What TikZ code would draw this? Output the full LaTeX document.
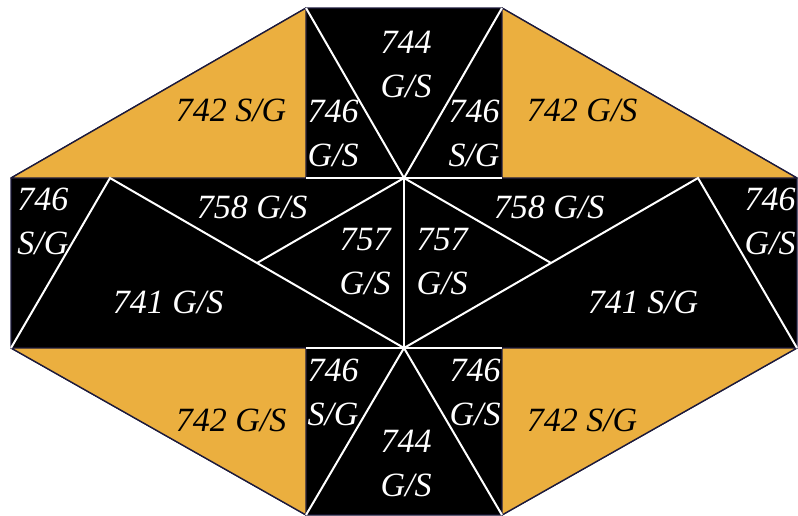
\documentclass[tikz,border=0pt]{standalone}
\usepackage{fontspec}
\setmainfont{Liberation Serif}
\usepackage{tikz}
\usetikzlibrary{calc}
\definecolor{tilegold}{HTML}{EBAF3F}
\definecolor{edgenavy}{HTML}{1C1A3C}
\tikzset{
  tile/.style={fill=black, draw=edgenavy, line width=0.6pt},
  goldtile/.style={fill=tilegold, draw=edgenavy, line width=0.7pt, line join=round},
  seam/.style={draw=white, line width=1pt},
  lbl/.style={font=\fontsize{17}{22}\selectfont\itshape, text=white, align=center, inner sep=0pt},
  goldlbl/.style={lbl, text=black}
}

\begin{document}
\begin{tikzpicture}[x=0.5pt, y=-0.5pt]
  \useasboundingbox (0,0) rectangle (798,515);
  % corner points of the figure
  \coordinate (tl) at (306,8);   \coordinate (tr) at (502,8);
  \coordinate (l1) at (11,178);  \coordinate (r1) at (797,178);
  \coordinate (l2) at (11,348);  \coordinate (r2) at (797,348);
  \coordinate (ml) at (306,178); \coordinate (mr) at (502,178);
  \coordinate (bl) at (306,348); \coordinate (br) at (502,348);
  \coordinate (ct) at (404,178); \coordinate (cb) at (404,348);
  \coordinate (fl) at (306,515); \coordinate (fr) at (502,515);
  \coordinate (pl) at (110,178); \coordinate (pr) at (698,178);
  \coordinate (xl) at ($(pl)!0.5!(cb)$);
  \coordinate (xr) at ($(pr)!0.5!(cb)$);

  % black body and gold corners
  \path[tile] (tl) -- (tr) -- (r1) -- (r2) -- (fr) -- (fl) -- (l2) -- (l1) -- cycle;
  \path[goldtile] (l1) -- (tl) -- (ml) -- cycle;
  \path[goldtile] (tr) -- (r1) -- (mr) -- cycle;
  \path[goldtile] (l2) -- (bl) -- (fl) -- cycle;
  \path[goldtile] (r2) -- (br) -- (fr) -- cycle;

  % white seams
  \draw[seam] (tl) -- (ct) -- (tr);
  \draw[seam] (ml) -- (mr);
  \draw[seam] (bl) -- (br);
  \draw[seam] (ct) -- (cb);
  \draw[seam] (l2) -- (pl) -- (cb);
  \draw[seam] (ct) -- (xl);
  \draw[seam] (r2) -- (pr) -- (cb);
  \draw[seam] (ct) -- (xr);
  \draw[seam] (fl) -- (cb) -- (fr);

  % labels
  \node[goldlbl] (g1) at (231,110) {742 S/G};
  \node[goldlbl] (g2) at (582,110) {742 G/S};
  \node[goldlbl] (g3) at (231,420) {742 G/S};
  \node[goldlbl] (g4) at (582,420) {742 S/G};

  \node[lbl] (t1) at (333,133) {746\\G/S};
  \node[lbl] (t2) at (406,64)  {744\\G/S};
  \node[lbl] (t3) at (474,133) {746\\S/G};

  \node[lbl] (m1) at (43,221)  {746\\S/G};
  \node[lbl] (m2) at (252,207) {758 G/S};
  \node[lbl] (m3) at (365,262) {757\\G/S};
  \node[lbl] (m4) at (442,262) {757\\G/S};
  \node[lbl] (m5) at (549,207) {758 G/S};
  \node[lbl] (m6) at (770,221) {746\\G/S};
  \node[lbl] (m7) at (168,302) {741 G/S};
  \node[lbl] (m8) at (643,302) {741 S/G};

  \node[lbl] (b1) at (333,392) {746\\S/G};
  \node[lbl] (b2) at (406,463) {744\\G/S};
  \node[lbl] (b3) at (475,392) {746\\G/S};
\end{tikzpicture}
\end{document}
